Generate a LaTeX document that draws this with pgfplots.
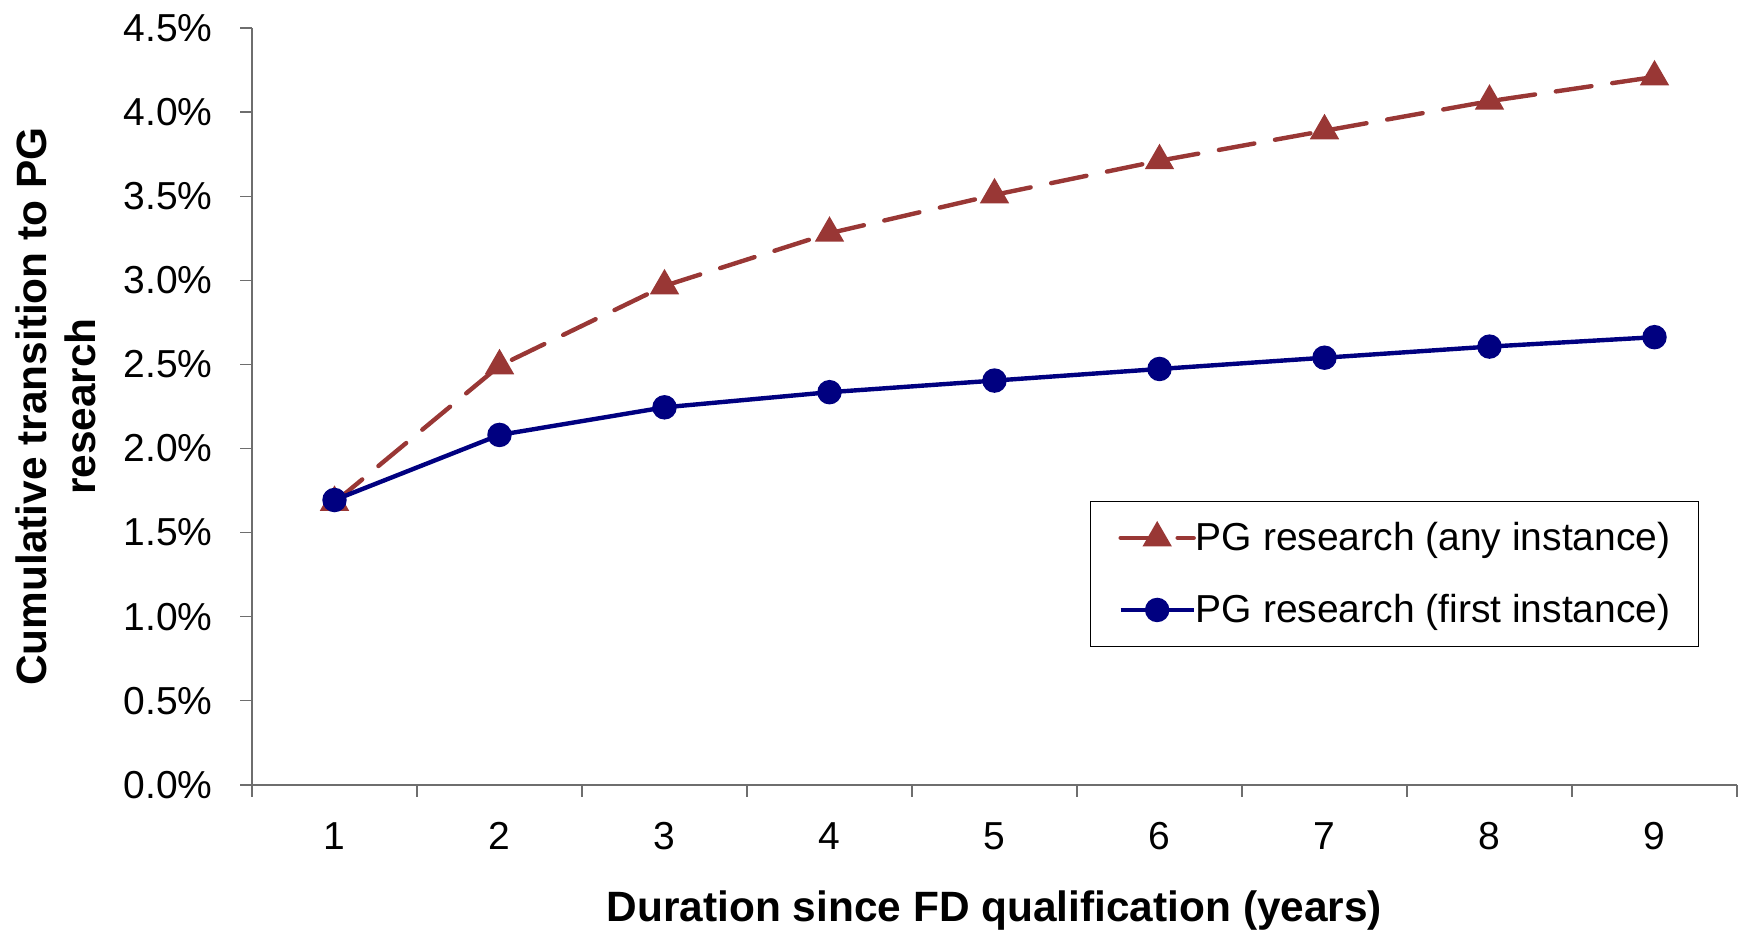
\documentclass[border=0pt]{standalone}
\usepackage{fontspec}
\setmainfont{Liberation Sans}
\usepackage{pgfplots}
\pgfplotsset{compat=1.18}
\definecolor{redS}{RGB}{153,55,53}
\definecolor{blueS}{RGB}{0,0,128}
\definecolor{axgray}{RGB}{110,110,110}
\begin{document}
\begin{tikzpicture}
\useasboundingbox (0,0) rectangle (873pt,465pt);
\begin{axis}[
  at={(126pt,72.5pt)}, anchor=south west,
  scale only axis, width=742.5pt, height=378.5pt,
  xmin=0.5, xmax=9.5, ymin=0, ymax=4.5,
  axis x line*=bottom, axis y line*=left,
  axis line style={draw=axgray, line width=0.6pt, -},
  tick align=outside,
  xtick={1,2,3,4,5,6,7,8,9},
  major x tick style={draw=none},
  minor xtick={0.5,1.5,2.5,3.5,4.5,5.5,6.5,7.5,8.5,9.5},
  minor x tick style={draw=axgray, line width=0.6pt},
  ytick={0,0.5,1,1.5,2,2.5,3,3.5,4,4.5},
  major y tick style={draw=axgray, line width=0.6pt},
  major tick length=6pt, minor tick length=6pt,
  /pgf/number format/assume math mode=true,
  yticklabel={\pgfmathprintnumber[fixed,fixed zerofill,precision=1]{\tick}\%},
  xticklabel={\pgfmathprintnumber{\tick}},
  ticklabel style={font=\fontsize{19.5}{23}\selectfont},
  yticklabel style={anchor=east, inner sep=0pt, xshift=-13.5pt},
  xticklabel style={anchor=base, inner sep=0pt, yshift=-26.5pt},
  xlabel={Duration since FD qualification (years)},
  xlabel style={at={(axis description cs:0.5,-0.1797)}, anchor=base, inner sep=0pt,
    font=\fontsize{21.2}{25}\selectfont\bfseries},
  ylabel={Cumulative transition to PG\\research},
  ylabel style={at={(axis description cs:-0.1323,0.5)}, anchor=center, align=center,
    font=\fontsize{21.2}{24.5}\selectfont\bfseries},
  legend cell align=left,
  legend style={at={(axis description cs:0.5643,0.3752)}, anchor=north west,
    draw=black, line width=0.5pt, inner xsep=14pt, inner ysep=9pt,
    row sep=17.5pt, column sep=0pt,
    font=\fontsize{19.5}{23}\selectfont,
    nodes={inner sep=0pt, text height=15.5pt, text depth=3pt}},
  legend image code/.code={\draw[mark repeat=2,mark phase=2,#1]
    plot coordinates {(0pt,0pt) (18.25pt,0pt) (36.5pt,0pt)};},
]
\addplot[color=redS, line width=2.2pt, line cap=round, dash pattern=on 18pt off 10.5pt,
  mark=triangle*, mark size=6.3pt, mark options={solid, fill=redS, draw=none}]
  coordinates {(1,1.68) (2,2.492) (3,2.967) (4,3.280) (5,3.508) (6,3.711) (7,3.889) (8,4.065) (9,4.209)};
\addlegendentry{PG research (any instance)}
\addplot[color=blueS, line width=2.2pt, solid,
  mark=*, mark size=5pt, mark options={solid, fill=blueS, draw=none}]
  coordinates {(1,1.694) (2,2.081) (3,2.245) (4,2.335) (5,2.404) (6,2.473) (7,2.540) (8,2.606) (9,2.662)};
\addlegendentry{PG research (first instance)}
\end{axis}
\end{tikzpicture}
\end{document}
